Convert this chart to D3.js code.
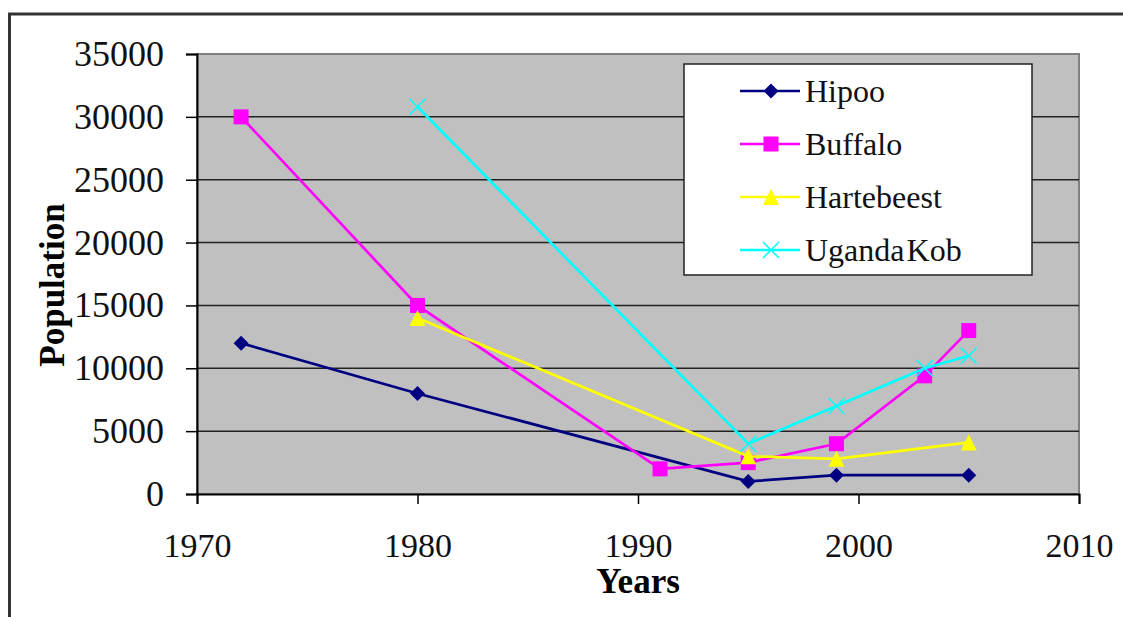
<!DOCTYPE html>
<html>
<head>
<meta charset="utf-8">
<script src="https://cdn.jsdelivr.net/npm/d3@7"></script>
<style>
  body { margin: 0; background: #fff; }
  text { font-family: "Liberation Serif", "Times New Roman", serif; }
</style>
</head>
<body>
<div id="chart"></div>
<script>
(function() {
    let w = 1123;
    let h = 617;

    // data
    let hipooYears = [1972, 1980, 1995, 1999, 2005];
    let hipooValues = [12000, 8000, 1000, 1500, 1500];

    let buffaloYears = [1972, 1980, 1991, 1995, 1999, 2003, 2005];
    let buffaloValues = [30000, 15000, 2000, 2500, 4000, 9400, 13000];

    let hartebeestYears = [1980, 1995, 1999, 2005];
    let hartebeestValues = [14000, 3000, 2800, 4100];

    let kobYears = [1980, 1995, 1999, 2003, 2005];
    let kobValues = [30800, 4000, 7000, 10000, 11000];

    let xTicks = [1970, 1980, 1990, 2000, 2010];
    let yTicks = [0, 5000, 10000, 15000, 20000, 25000, 30000, 35000];

    let series = [
        {name: "Hipoo", years: hipooYears, values: hipooValues, color: "#000080", marker: "diamond"},
        {name: "Buffalo", years: buffaloYears, values: buffaloValues, color: "#ff00ff", marker: "square"},
        {name: "Hartebeest", years: hartebeestYears, values: hartebeestValues, color: "#ffff00", marker: "triangle"},
        {name: "Uganda Kob", years: kobYears, values: kobValues, color: "#00ffff", marker: "cross"}
    ];

    let plot = {left: 197, top: 54, right: 1079, bottom: 494};
    let serif = "'Liberation Serif', 'Times New Roman', serif";

    let svg = d3.select("#chart")
        .append("svg")
        .attr("width", w)
        .attr("height", h);

    // outer frame (runs off the right and bottom edges)
    svg.append("rect")
        .attr("x", 9.5)
        .attr("y", 14)
        .attr("width", w + 20)
        .attr("height", h + 20)
        .attr("fill", "none")
        .attr("stroke", "#333")
        .attr("stroke-width", 3);

    let x = d3.scaleLinear().domain([1970, 2010]).range([plot.left, plot.right]);
    let y = d3.scaleLinear().domain([0, 35000]).range([plot.bottom, plot.top]);

    // plot background
    svg.append("rect")
        .attr("x", plot.left)
        .attr("y", plot.top)
        .attr("width", plot.right - plot.left)
        .attr("height", plot.bottom - plot.top)
        .attr("fill", "#c0c0c0")
        .attr("stroke", "#808080")
        .attr("stroke-width", 2);

    // gridlines
    svg.append("g")
        .selectAll("line")
        .data(yTicks.slice(1, -1))
        .enter()
        .append("line")
        .attr("x1", plot.left)
        .attr("x2", plot.right)
        .attr("y1", (d) => y(d))
        .attr("y2", (d) => y(d))
        .attr("stroke", "#222")
        .attr("stroke-width", 1.5);

    // axes
    let yAxis = svg.append("g")
        .attr("transform", "translate(" + plot.left + ",0)")
        .call(d3.axisLeft(y).tickValues(yTicks).tickSize(11).tickPadding(22).tickFormat(d3.format("d")));

    let xAxis = svg.append("g")
        .attr("transform", "translate(0," + plot.bottom + ")")
        .call(d3.axisBottom(x).tickValues(xTicks).tickSize(10).tickPadding(29).tickFormat(d3.format("d")));

    [xAxis, yAxis].forEach((a) => {
        a.select(".domain").attr("stroke", "#000").attr("stroke-width", 2);
        a.selectAll(".tick line").attr("stroke", "#000").attr("stroke-width", 1.5);
        a.selectAll(".tick text")
            .attr("fill", "#111")
            .style("font-family", serif);
    });
    yAxis.selectAll(".tick text").style("font-size", "36px");
    xAxis.selectAll(".tick text").style("font-size", "34px");

    // axis titles
    svg.append("text")
        .attr("x", (plot.left + plot.right) / 2)
        .attr("y", 593)
        .attr("text-anchor", "middle")
        .style("font-family", serif)
        .style("font-size", "35px")
        .style("font-weight", "bold")
        .text("Years");

    svg.append("text")
        .attr("transform", "translate(64," + ((plot.top + plot.bottom) / 2 + 11) + ") rotate(-90)")
        .attr("text-anchor", "middle")
        .style("font-family", serif)
        .style("font-size", "35px")
        .style("font-weight", "bold")
        .text("Population");

    // marker shapes, sizes given as half-widths
    let shapes = {
        diamond: {draw: (ctx, r) => {
            ctx.moveTo(0, -r); ctx.lineTo(r, 0); ctx.lineTo(0, r); ctx.lineTo(-r, 0); ctx.closePath();
        }},
        square: {draw: (ctx, r) => { ctx.rect(-r, -r, 2 * r, 2 * r); }},
        triangle: {draw: (ctx, r) => {
            ctx.moveTo(0, -r); ctx.lineTo(r, r); ctx.lineTo(-r, r); ctx.closePath();
        }},
        cross: {draw: (ctx, r) => {
            ctx.moveTo(-r, -r); ctx.lineTo(r, r); ctx.moveTo(r, -r); ctx.lineTo(-r, r);
        }}
    };
    let half = {diamond: 7.5, square: 7.5, triangle: 8, cross: 8};

    let drawMarker = (g, s, cx, cy) => {
        let p = g.append("path")
            .attr("d", d3.symbol().type(shapes[s.marker]).size(half[s.marker])())
            .attr("transform", "translate(" + cx + "," + cy + ")");
        if (s.marker === "cross") {
            p.attr("fill", "none").attr("stroke", s.color).attr("stroke-width", 1.5);
        } else {
            p.attr("fill", s.color).attr("stroke", "none");
        }
    };

    let line = d3.line()
        .x((d) => x(d[0]))
        .y((d) => y(d[1]));

    series.forEach((s) => {
        let pts = s.years.map((yr, i) => [yr, s.values[i]]);
        let g = svg.append("g");
        g.append("path")
            .datum(pts)
            .attr("d", line)
            .attr("fill", "none")
            .attr("stroke", s.color)
            .attr("stroke-width", 2.7);
        pts.forEach((d) => drawMarker(g, s, x(d[0]), y(d[1])));
    });

    // legend
    let legend = svg.append("g");
    legend.append("rect")
        .attr("x", 684)
        .attr("y", 64)
        .attr("width", 348)
        .attr("height", 211)
        .attr("fill", "#fff")
        .attr("stroke", "#222")
        .attr("stroke-width", 1.5);

    series.forEach((s, i) => {
        let cy = 91 + i * 53;
        legend.append("line")
            .attr("x1", 740)
            .attr("x2", 800)
            .attr("y1", cy)
            .attr("y2", cy)
            .attr("stroke", s.color)
            .attr("stroke-width", 2.7);
        drawMarker(legend, s, 771, cy);
        legend.append("text")
            .attr("x", 805)
            .attr("y", cy + 11)
            .style("font-family", serif)
            .style("font-size", "32px")
            .style("word-spacing", "-6px")
            .attr("fill", "#111")
            .text(s.name);
    });
})();
</script>
</body>
</html>
